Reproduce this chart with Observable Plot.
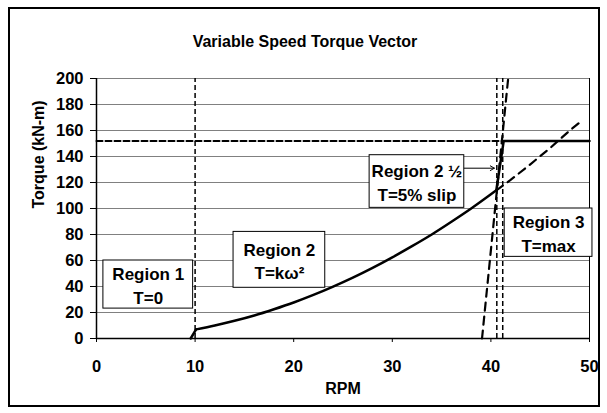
<!DOCTYPE html>
<html>
<head>
<meta charset="utf-8">
<script src="https://cdn.jsdelivr.net/npm/d3@7"></script>
<script src="https://cdn.jsdelivr.net/npm/@observablehq/plot@0.6"></script>
<style>
  html, body { margin: 0; padding: 0; background: #fff; }
  #wrap { position: relative; width: 607px; height: 413px; }
  #frame { position: absolute; left: 8px; top: 7px; width: 588px; height: 396px; border: 2px solid #000; pointer-events: none; }
</style>
</head>
<body>
<div id="wrap"><div id="frame"></div></div>
<script>
// ---- data ----
const xTicks = [0, 10, 20, 30, 40, 50];
const yTicks = [0, 20, 40, 60, 80, 100, 120, 140, 160, 180, 200];

// Region 1: T = 0
const r1Rpm = [0, 9.55];
const r1Torque = [0, 0];
// ramp up to region 2
const rampRpm = [9.55, 10.1];
const rampTorque = [0, 7];
// Region 2: T = k w^2 (solid part)
const curveRpm = [10.1, 12, 14, 16, 18, 20, 22, 24, 26, 28, 30, 32, 34, 36, 38, 40, 40.55];
const curveTorque = [7, 10, 13.6, 17.7, 22.5, 27.7, 33.5, 39.9, 46.8, 54.3, 62.4, 71, 80, 89.8, 100, 110.9, 114];
// continuation of T = k w^2 (dashed)
const extRpm = [40.55, 42, 44, 46, 48, 49.3];
const extTorque = [114, 122, 134, 146.5, 160, 168];
// Region 2 1/2 (solid) and Region 3 (solid, max)
const r3Rpm = [40.55, 41.3, 50];
const r3Torque = [114, 152, 152];
// max torque dashed level
const maxRpm = [0, 41.2];
const maxTorque = [152, 152];
// 5% slip dashed line
const slipRpm = [39.1, 41.75];
const slipTorque = [0, 200];
// vertical dashed boundaries
const boundaryRpm = [10, 40.6, 41.2];

// annotation boxes
const boxLabels = ["Region 1\nT=0", "Region 2\nT=kω²", "Region 2 ½\nT=5% slip", "Region 3\nT=max"];
const boxX1 = [0.7, 13.9, 27.7, 41.4];
const boxX2 = [9.8, 23.2, 37.3, 50.3];
const boxY1 = [23, 39, 100.5, 62.8];
const boxY2 = [60, 82, 141, 100];
// arrow from Region 2 1/2 box
const arrowX = [37.3, 40.35];
const arrowY = [131, 131];

const title = "Variable Speed Torque Vector";
const xLabel = "RPM";
const yLabel = "Torque (kN-m)";

// ---- build tables ----
const pts = (xs, ys) => xs.map((x, i) => ({x, y: ys[i]}));
const boxes = boxLabels.map((t, i) => ({t, x1: boxX1[i], x2: boxX2[i], y1: boxY1[i], y2: boxY2[i], cx: (boxX1[i] + boxX2[i]) / 2, cy: (boxY1[i] + boxY2[i]) / 2}));

const FONT = "Liberation Sans, Arial, Helvetica, sans-serif";

const chart = Plot.plot({
  width: 607,
  height: 413,
  marginLeft: 96,
  marginRight: 18,
  marginTop: 78,
  marginBottom: 75,
  style: {fontFamily: FONT, fontSize: "16px", fontWeight: "bold", background: "transparent", color: "#000"},
  x: {domain: [0, 50]},
  y: {domain: [0, 200]},
  marks: [
    Plot.gridY(yTicks, {stroke: "#808080", strokeOpacity: 1, strokeWidth: 1}),
    Plot.ruleX([50], {stroke: "#000", strokeWidth: 1}),
    Plot.ruleX(boundaryRpm, {y1: 0, y2: 200, stroke: "#000", strokeWidth: 1.5, strokeDasharray: "5,3"}),
    Plot.line(pts(r1Rpm, r1Torque), {x: "x", y: "y", stroke: "#777", strokeWidth: 1, strokeDasharray: "2,1"}),
    Plot.line(pts(maxRpm, maxTorque), {x: "x", y: "y", stroke: "#000", strokeWidth: 2, strokeDasharray: "6,3"}),
    Plot.line(pts(slipRpm, slipTorque), {x: "x", y: "y", stroke: "#000", strokeWidth: 2.2, strokeDasharray: "8,6"}),
    Plot.line(pts(extRpm, extTorque), {x: "x", y: "y", stroke: "#000", strokeWidth: 2.2, strokeDasharray: "8,6"}),
    Plot.line(pts(rampRpm, rampTorque), {x: "x", y: "y", stroke: "#000", strokeWidth: 2.5}),
    Plot.line(pts(curveRpm, curveTorque), {x: "x", y: "y", stroke: "#000", strokeWidth: 2.5, curve: "monotone-x"}),
    Plot.line(pts(r3Rpm, r3Torque), {x: "x", y: "y", stroke: "#000", strokeWidth: 2.5}),
    Plot.ruleY([0], {stroke: "#000", strokeWidth: 1.5}),
    Plot.ruleX([0], {stroke: "#000", strokeWidth: 1.5}),
    Plot.axisX(xTicks, {tickSize: 4, tickPadding: 18, fontSize: 16.5, fontWeight: "bold", label: null}),
    Plot.axisY(yTicks, {tickSize: 6, tickPadding: 7, fontSize: 16.5, fontWeight: "bold", label: null}),
    Plot.rect(boxes, {x1: "x1", x2: "x2", y1: "y1", y2: "y2", fill: "#fff", stroke: "#000", strokeWidth: 1}),
    Plot.text(boxes, {x: "cx", y: "cy", text: "t", fontSize: 17, fontWeight: "bold", lineHeight: 1.4, fill: "#000"}),
    Plot.arrow([{x1: arrowX[0], x2: arrowX[1], y1: arrowY[0], y2: arrowY[1]}], {x1: "x1", x2: "x2", y1: "y1", y2: "y2", stroke: "#000", strokeWidth: 1, headLength: 7}),
    Plot.text([title], {frameAnchor: "top", dx: -38, dy: -43, fontSize: 16, fontWeight: "bold", fill: "#000"}),
    Plot.text([xLabel], {frameAnchor: "bottom", dy: 55, fontSize: 16, fontWeight: "bold", fill: "#000"}),
    Plot.text([yLabel], {frameAnchor: "left", dx: -58, rotate: -90, fontSize: 16, fontWeight: "bold", fill: "#000"})
  ]
});
document.getElementById("wrap").prepend(chart);
</script>
</body>
</html>
